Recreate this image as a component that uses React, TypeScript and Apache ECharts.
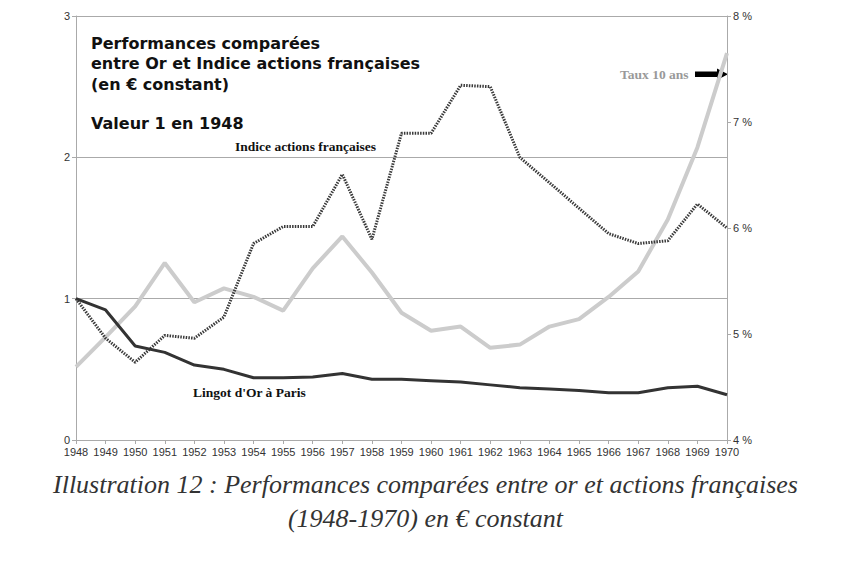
import React, { useEffect, useRef } from "react";
import * as echarts from "echarts";

const years = ["1948","1949","1950","1951","1952","1953","1954","1955","1956","1957","1958","1959","1960","1961","1962","1963","1964","1965","1966","1967","1968","1969","1970"];
const actions = [1.0,0.72,0.55,0.74,0.72,0.87,1.39,1.51,1.51,1.88,1.42,2.17,2.17,2.51,2.50,2.0,1.82,1.64,1.46,1.39,1.41,1.67,1.50];
const gold = [1.0,0.92,0.665,0.62,0.53,0.50,0.44,0.44,0.445,0.47,0.43,0.43,0.42,0.41,0.39,0.37,0.36,0.35,0.335,0.335,0.37,0.38,0.32];
const taux = [4.69,4.97,5.26,5.67,5.30,5.43,5.35,5.22,5.62,5.92,5.58,5.20,5.03,5.07,4.87,4.90,5.07,5.14,5.35,5.59,6.08,6.76,7.65];
const leftTicks = { min: 0, max: 3, interval: 1 };
const rightTicks = { min: 4, max: 8, interval: 1 };

export default function App() {
  const ref = useRef<HTMLDivElement>(null);
  useEffect(() => {
    const chart = echarts.init(ref.current!, null, { renderer: "svg" });
    const axisFont = { fontFamily: "Liberation Sans", fontSize: 11, color: "#333" };
    const serifLabel = "bold 13.5px 'Liberation Serif'";
    chart.setOption({
      animation: false,
      backgroundColor: "#fff",
      grid: { left: 76, right: 124, top: 16, bottom: 122 },
      xAxis: {
        type: "category",
        data: years,
        boundaryGap: false,
        axisLine: { lineStyle: { color: "#aaa" } },
        axisTick: { show: true, interval: 0, length: 4, lineStyle: { color: "#aaa" } },
        axisLabel: { ...axisFont, interval: 0, margin: 6 },
      },
      yAxis: [
        {
          type: "value",
          ...leftTicks,
          axisLine: { show: true, lineStyle: { color: "#aaa" } },
          axisTick: { show: true, length: 4, lineStyle: { color: "#aaa" } },
          axisLabel: { ...axisFont, margin: 6 },
          splitLine: { show: true, lineStyle: { color: "#aaa", width: 1 } },
        },
        {
          type: "value",
          ...rightTicks,
          position: "right",
          axisLine: { show: true, lineStyle: { color: "#aaa" } },
          axisTick: { show: true, length: 4, lineStyle: { color: "#aaa" } },
          axisLabel: { ...axisFont, margin: 6, formatter: "{value} %" },
          splitLine: { show: false },
        },
      ],
      series: [
        {
          name: "Taux 10 ans",
          type: "line",
          yAxisIndex: 1,
          data: taux,
          symbol: "none",
          lineStyle: { color: "#cccccc", width: 4 },
        },
        {
          name: "Indice actions françaises",
          type: "line",
          data: actions,
          symbol: "none",
          lineStyle: { color: "#3a3a3a", width: 3, type: [1.5, 1.2] },
        },
        {
          name: "Lingot d'Or à Paris",
          type: "line",
          data: gold,
          symbol: "none",
          lineStyle: { color: "#333", width: 3 },
        },
      ],
      graphic: [
        {
          type: "text",
          left: 91,
          top: 33,
          style: {
            text: "Performances comparées\nentre Or et Indice actions françaises\n(en € constant)",
            font: "bold 16px 'DejaVu Sans'",
            lineHeight: 20.5,
            fill: "#111",
          },
        },
        {
          type: "text",
          left: 91,
          top: 115,
          style: { text: "Valeur 1 en 1948", font: "bold 16px 'DejaVu Sans'", fill: "#111" },
        },
        {
          type: "text",
          left: 235,
          top: 139,
          style: { text: "Indice actions françaises", font: serifLabel, fill: "#111" },
        },
        {
          type: "text",
          left: 193,
          top: 385,
          style: { text: "Lingot d'Or à Paris", font: serifLabel, fill: "#111" },
        },
        {
          type: "text",
          left: 620,
          top: 67,
          style: { text: "Taux 10 ans", font: serifLabel, fill: "#999" },
        },
        { type: "rect", shape: { x: 695, y: 71.5, width: 23, height: 5.5 }, style: { fill: "#000" } },
        { type: "polygon", shape: { points: [[717, 68.5], [728, 74.2], [717, 80]] }, style: { fill: "#000" } },
        {
          type: "text",
          left: "center",
          top: 471,
          style: {
            text: "Illustration 12 : Performances comparées entre or et actions françaises",
            font: "italic 26px 'Liberation Serif'",
            fill: "#333",
          },
        },
        {
          type: "text",
          left: "center",
          top: 505,
          style: {
            text: "(1948-1970) en € constant",
            font: "italic 26px 'Liberation Serif'",
            fill: "#333",
          },
        },
      ],
    });
    return () => chart.dispose();
  }, []);
  return <div ref={ref} style={{ position: "fixed", left: 0, top: 0, width: 851, height: 562 }} />;
}
